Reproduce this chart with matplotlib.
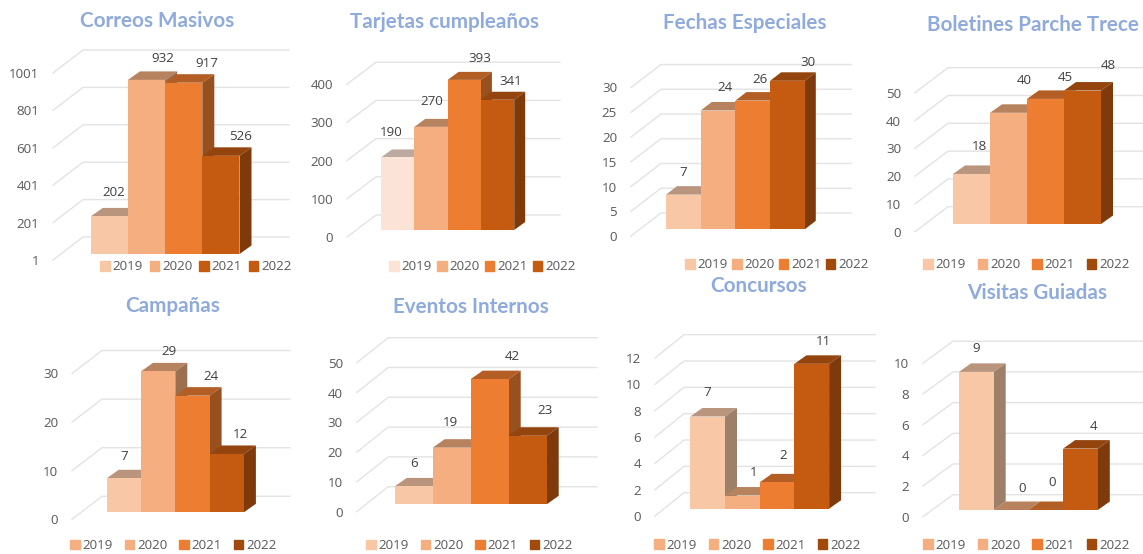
import matplotlib
matplotlib.use("Agg")
import matplotlib.pyplot as plt
from matplotlib.patches import Polygon, Patch
from matplotlib.transforms import IdentityTransform

W, H = 1143, 554

YEARS = ["2019", "2020", "2021", "2022"]

CORREOS = [202, 932, 917, 526]
TARJETAS = [190, 270, 393, 341]
FECHAS = [7, 24, 26, 30]
BOLETINES = [18, 40, 45, 48]
CAMPANAS = [7, 29, 24, 12]
EVENTOS = [6, 19, 42, 23]
CONCURSOS = [7, 1, 2, 11]
VISITAS = [9, 0, 0, 4]

CORREOS_TICKS = [1, 201, 401, 601, 801, 1001]
TARJETAS_TICKS = [0, 100, 200, 300, 400]
FECHAS_TICKS = [0, 5, 10, 15, 20, 25, 30]
BOLETINES_TICKS = [0, 10, 20, 30, 40, 50]
CAMPANAS_TICKS = [0, 10, 20, 30]
EVENTOS_TICKS = [0, 10, 20, 30, 40, 50]
CONCURSOS_TICKS = [0, 2, 4, 6, 8, 10, 12]
VISITAS_TICKS = [0, 2, 4, 6, 8, 10]

LIGHT = "#F7C7A6"
PALE = "#FBE3D5"
SOFT = "#F4AE7F"
ORANGE = "#ED7D31"
RUST = "#C55A11"
DARK = "#A04A0C"

TITLE_COL = "#8FAADC"
TICK_COL = "#595959"
LABEL_COL = "#404040"
GRID_COL = "#E3E3E3"
FS = 9.6

plt.rcParams["font.family"] = ["Open Sans", "DejaVu Sans"]


def shade(col, k):
    r, g, b = matplotlib.colors.to_rgb(col)
    return (r * k, g * k, b * k)


def to_pt(px):
    return px * 72 / 100


def draw_panel(fig, title, vals, ticks, p):
    ppu = p["ppu"]
    bw = p["bw"]
    # axes runs from the front end of the gridlines to their right end
    left, right = p["gx"], p["gr"]
    y0 = p["gy"]
    ax = fig.add_axes([left / W, 1 - y0 / H, (right - left) / W, ppu * (ticks[-1] - ticks[0]) / H])
    ax.set_xlim((left - p["bx"]) / bw, (right - p["bx"]) / bw)
    ax.set_ylim(ticks[0], ticks[-1])
    ax.patch.set_alpha(0)
    for s in ax.spines.values():
        s.set_visible(False)
    ax.set_xticks([])
    ax.set_yticks(ticks)
    ax.set_yticklabels([str(t) for t in ticks], color=TICK_COL, fontsize=FS)
    ax.tick_params(axis="y", length=0, pad=p.get("pad", 10))

    # gridlines go back along the side wall and then along the back wall
    xf = ax.get_xlim()[0]
    xb = xf + p["wdx"] / bw
    for t in ticks:
        yb = t + p["wdy"] / ppu
        ax.plot([xf, xb, ax.get_xlim()[1]], [t, yb, yb], color=GRID_COL, lw=1, clip_on=False, zorder=1)

    base = ticks[0] + (y0 - p["floor"]) / ppu
    ddx = p.get("ddx", 12) / bw
    ddy = p.get("ddy", 8.5) / ppu
    for i, v in enumerate(vals):
        h = v - ticks[0] if ticks[0] else v
        top = base + h
        col = p["cols"][i]
        ax.add_patch(Polygon([(i, top), (i + 1, top), (i + 1 + ddx, top + ddy), (i + ddx, top + ddy)],
                             fc=shade(col, 0.75), ec="none", zorder=2 + i, clip_on=False))
        ax.add_patch(Polygon([(i + 1, base), (i + 1 + ddx, base + ddy), (i + 1 + ddx, top + ddy), (i + 1, top)],
                             fc=shade(col, 0.64), ec="none", zorder=2 + i, clip_on=False))
        ax.bar(i + 0.5, h, width=1, bottom=base, color=col, zorder=2.5 + i, clip_on=False)
        ox, oy = p["lab"][i]
        ax.annotate(str(v), (i + 0.5, top), xytext=(to_pt(ox), to_pt(oy)), textcoords="offset points",
                    ha="center", va="center", color=LABEL_COL, fontsize=FS, zorder=10, annotation_clip=False)

    fig.text(p["tx"] / W, 1 - p["ty"] / H, title, ha="center", va="center", color=TITLE_COL,
             fontsize=14.9, fontfamily=["Lato", "DejaVu Sans"], fontweight="bold")

    handles = [Patch(color=c, label=y) for c, y in zip(p["leg_cols"], YEARS)]
    ax.legend(handles=handles, loc="center left", bbox_to_anchor=(p["lx"], H - p["ly"]),
              bbox_transform=IdentityTransform(), ncol=4, frameon=False, fontsize=FS, labelcolor=TICK_COL,
              handlelength=0.72, handleheight=0.72, handletextpad=0.22,
              columnspacing=(p["lsp"] - 43) / 13.3, borderpad=0, borderaxespad=0)


def main():
    fig = plt.figure(figsize=(W / 100, H / 100), dpi=100, facecolor="white")

    base_cols = [LIGHT, SOFT, ORANGE, RUST]
    draw_panel(fig, "Correos Masivos", CORREOS, CORREOS_TICKS, dict(
        bx=90.7, bw=37.2, floor=254, ppu=0.187, gx=53, gy=260, gr=289, wdx=30, wdy=23,
        cols=base_cols, lab=[(4, 24), (16, 21), (23, 19), (20, 19)],
        tx=157, ty=21, lx=100, ly=267, lsp=49.7, leg_cols=[LIGHT, SOFT, RUST, RUST]))
    draw_panel(fig, "Tarjetas cumpleaños", TARJETAS, TARJETAS_TICKS, dict(
        bx=381, bw=33.3, floor=230, ppu=0.382, gx=347, gy=237, gr=560, wdx=29, wdy=22, ddx=11, ddy=8,
        cols=[PALE, SOFT, ORANGE, RUST], lab=[(-6, 25), (1, 25), (16, 21), (13, 18)],
        tx=444, ty=22, lx=389, ly=267, lsp=48, leg_cols=[PALE, SOFT, ORANGE, RUST]))
    draw_panel(fig, "Fechas Especiales", FECHAS, FECHAS_TICKS, dict(
        bx=666, bw=34.7, floor=229.3, ppu=4.95, gx=631, gy=236, gr=851, wdx=30, wdy=23, ddx=11, ddy=8.5,
        cols=base_cols, lab=[(0, 22), (7, 23), (7, 21), (20, 18)],
        tx=745, ty=23, lx=685, ly=265, lsp=47, leg_cols=[LIGHT, SOFT, ORANGE, DARK]))
    draw_panel(fig, "Boletines Parche Trece", BOLETINES, BOLETINES_TICKS, dict(
        bx=953, bw=37, floor=224, ppu=2.78, gx=915, gy=231.7, gr=1143, wdx=33, wdy=25,
        cols=base_cols, lab=[(8.5, 27), (16, 32), (20, 21), (26, 25)],
        tx=1033, ty=25, lx=923, ly=265, lsp=54.7, leg_cols=[LIGHT, SOFT, ORANGE, DARK]))
    draw_panel(fig, "Campañas", CAMPANAS, CAMPANAS_TICKS, dict(
        bx=106.7, bw=34.3, floor=512.3, ppu=4.86, gx=72, gy=519.3, gr=290, wdx=30, wdy=23,
        cols=base_cols, lab=[(0, 22), (11, 20), (18, 19), (14, 19)],
        tx=173, ty=306, lx=70, ly=545.7, lsp=54.7, leg_cols=[SOFT, SOFT, ORANGE, DARK]))
    draw_panel(fig, "Eventos Internos", EVENTOS, EVENTOS_TICKS, dict(
        bx=394.7, bw=38, floor=504.3, ppu=2.98, gx=356.7, gy=511.7, gr=597, wdx=31.5, wdy=25,
        cols=base_cols, lab=[(0, 23), (-1, 25), (23, 23), (17, 25)],
        tx=471, ty=307, lx=366, ly=545.7, lsp=54.7, leg_cols=[LIGHT, SOFT, ORANGE, DARK]))
    draw_panel(fig, "Concursos", CONCURSOS, CONCURSOS_TICKS, dict(
        bx=690.3, bw=34.7, floor=508.7, ppu=13.17, gx=655, gy=516, gr=875, wdx=29, wdy=23.3,
        cols=base_cols, lab=[(0, 24), (11, 23), (6, 27), (12, 22)],
        tx=759, ty=286, lx=654, ly=545.3, lsp=54.7, leg_cols=[SOFT, SOFT, ORANGE, DARK]))
    draw_panel(fig, "Visitas Guiadas", VISITAS, VISITAS_TICKS, dict(
        bx=959, bw=34.7, floor=510, ppu=15.35, gx=923, gy=516.7, gr=1143, wdx=30, wdy=22,
        cols=base_cols, lab=[(0, 23), (11, 22), (6, 27), (13, 22)],
        tx=1037, ty=293, lx=923, ly=545.3, lsp=54.7, leg_cols=[SOFT, SOFT, ORANGE, DARK]))

    fig.savefig("out.png", dpi=100)


if __name__ == "__main__":
    main()
